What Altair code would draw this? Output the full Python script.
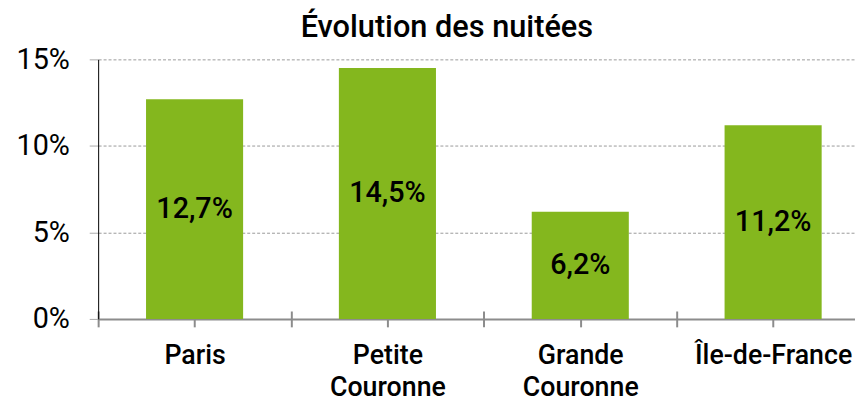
import altair as alt
import pandas as pd

categories = ["Paris", "Petite Couronne", "Grande Couronne", "Île-de-France"]
label_lines = [["Paris"], ["Petite", "Couronne"], ["Grande", "Couronne"], ["Île-de-France"]]
values = [12.7, 14.5, 6.2, 11.2]
value_labels = ["12,7%", "14,5%", "6,2%", "11,2%"]
y_ticks = [0, 5, 10, 15]

df = pd.DataFrame({
    "categorie": categories,
    "pos": [i + 0.5 for i in range(len(categories))],
    "valeur": values,
    "etiquette": value_labels,
})
df["milieu"] = df["valeur"] / 2

# label expression for category centres
expr = "''"
for i, lines in reversed(list(enumerate(label_lines))):
    arr = "[" + ",".join("'" + s + "'" for s in lines) + "]"
    expr = f"abs(datum.value - {i + 0.5}) < 0.01 ? {arr} : ({expr})"

tick_vals = [i * 0.5 for i in range(0, 2 * len(categories) + 1)]

FONT = "Roboto"
GREEN = "#84b71e"
PLOT_W = 764
BAND = 194.67  # the reference chart's category width; the last slot runs past the right edge

x_enc = alt.X(
    "pos:Q",
    scale=alt.Scale(domain=[0, PLOT_W / BAND], nice=False, zero=False, padding=0),
    axis=alt.Axis(
        title=None,
        values=tick_vals,
        labelExpr=expr,
        labelOverlap=False,
        labelFlush=False,
        labelBound=False,
        grid=False,
        domain=False,
        offset=-8,
        tickSize=16,
        tickColor="#8c8c8c",
        tickWidth=2,
        labelFont=FONT,
        labelFontSize=27,
        labelFontWeight=500,
        labelColor="#000000",
        labelPadding=16,
        labelLineHeight=32,
    ),
)

y_enc = alt.Y(
    "valeur:Q",
    scale=alt.Scale(domain=[0, 15], nice=False),
    axis=alt.Axis(
        title=None,
        values=y_ticks,
        labelExpr="datum.value + '%'",
        grid=True,
        gridColor=alt.condition("datum.value == 0", alt.value("#8c8c8c"), alt.value("#9a9a9a")),
        gridDash=alt.condition("datum.value == 0", alt.value([]), alt.value([3, 2])),
        gridWidth=alt.condition("datum.value == 0", alt.value(2), alt.value(1)),
        domain=True,
        domainColor="#000000",
        domainWidth=1,
        tickColor="#aaaaaa",
        tickSize=9,
        tickWidth=1,
        labelFont=FONT,
        labelFontSize=29,
        labelColor="#000000",
        labelPadding=20,
    ),
)

bars = alt.Chart(df).mark_bar(color=GREEN, size=98).encode(x=x_enc, y=y_enc)

texts = alt.Chart(df).mark_text(
    font=FONT, fontSize=29, fontWeight=500, color="#000000", baseline="middle", align="center"
).encode(
    x=alt.X("pos:Q"),
    y=alt.Y("milieu:Q"),
    text="etiquette:N",
)

chart = (
    alt.layer(bars, texts)
    .properties(
        width=PLOT_W,
        height=262,
        title=alt.TitleParams(
            "Évolution des nuitées",
            font=FONT,
            fontSize=31,
            fontWeight=500,
            color="#000000",
            dx=-30,
            offset=2,
        ),
        autosize=alt.AutoSizeParams(type="none"),
        padding={"left": 91, "top": 50, "right": 0, "bottom": 82},
    )
    .configure_view(stroke=None)
)

chart.save("out.html", embed_options={"renderer": "svg", "actions": False})
